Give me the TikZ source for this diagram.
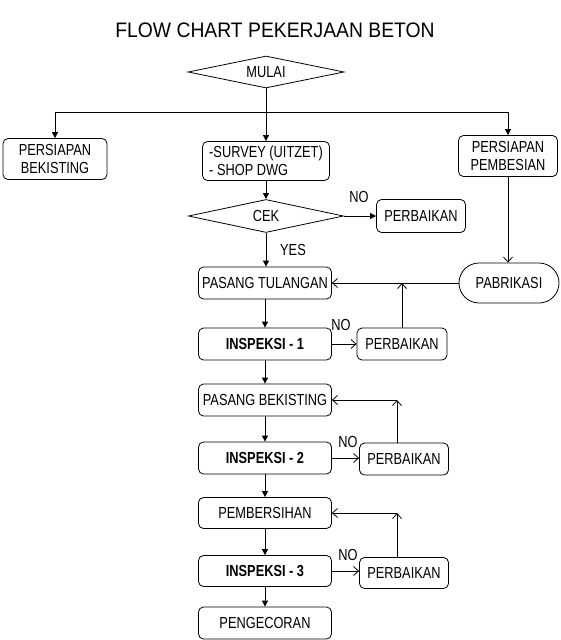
\documentclass[tikz,border=0pt]{standalone}
\usepackage{fontspec}
\setmainfont{Liberation Sans}[FakeStretch=0.8]
\newfontfamily\titlefont{Liberation Sans}[FakeStretch=0.92]
\usetikzlibrary{arrows.meta,positioning,calc,shapes.geometric}

\begin{document}
\begin{tikzpicture}[
  x=1pt, y=-1pt,
  box/.style={draw, rounded corners=5pt, minimum width=133pt, minimum height=32pt, inner sep=1pt, align=center, font=\fontsize{16}{18}\selectfont},
  fixbox/.style={box, minimum width=89pt},
  prepbox/.style={box, minimum width=100pt, minimum height=41pt},
  decide/.style={draw, diamond, aspect=4.8, inner sep=0pt, minimum width=156pt, minimum height=32pt, font=\fontsize{16}{18}\selectfont},
  insp/.style={box, font=\fontsize{16}{18}\selectfont\bfseries},
  lbl/.style={font=\fontsize{16}{18}\selectfont, inner sep=0pt},
  arrow/.style={-{Triangle[length=6pt,width=6pt]}, line width=0.8pt},
  back/.style={-{Straight Barb[length=5pt,width=9pt]}, line width=0.8pt},
  every node/.append style={line width=0.8pt}
]
\useasboundingbox (0,0) rectangle (561,640);

\node[font=\titlefont\fontsize{21}{24}\selectfont] (title) at (275,30) {FLOW CHART PEKERJAAN BETON};

\node[decide] (mulai) at (266,72) {MULAI};
\node[prepbox, minimum width=104pt] (bekisting) at (55,159) {PERSIAPAN\\BEKISTING};
\node[box, minimum width=127pt, minimum height=39pt, align=left] (survey) at (266,161) {-SURVEY (UITZET)\\- SHOP DWG};
\node[prepbox, minimum width=99pt] (pembesian) at (508,156) {PERSIAPAN\\PEMBESIAN};

\node[decide, minimum width=155pt, minimum height=33pt] (cek) at (266,216) {CEK};
\node[fixbox, minimum height=33pt] (fix0) at (421,216) {PERBAIKAN};
\node[lbl] (no0) at (359,197) {NO};
\node[lbl] (yes) at (293,250) {YES};

\node[box] (tulangan) at (265,283) {PASANG TULANGAN};
\node[draw, rounded corners=20pt, minimum width=100pt, minimum height=40pt, font=\fontsize{16}{18}\selectfont] (pabrikasi) at (509,283) {PABRIKASI};

\node[insp] (insp1) at (265,344) {INSPEKSI - 1};
\node[fixbox, minimum width=90pt] (fix1) at (402,344) {PERBAIKAN};
\node[lbl] (no1) at (341,325) {NO};

\node[box] (pbekisting) at (265,400) {PASANG BEKISTING};
\node[insp] (insp2) at (265,458) {INSPEKSI - 2};
\node[fixbox] (fix2) at (404,459) {PERBAIKAN};
\node[lbl] (no2) at (348,442) {NO};

\node[box, minimum height=31pt] (bersih) at (265,513) {PEMBERSIHAN};
\node[insp, minimum height=31pt] (insp3) at (265,571) {INSPEKSI - 3};
\node[fixbox, minimum height=31pt] (fix3) at (404,573) {PERBAIKAN};
\node[lbl] (no3) at (348,555) {NO};

\node[box] (cor) at (265,623) {PENGECORAN};

\coordinate (split) at (266,112);
\draw[arrow] (mulai.south) -- (survey.north);
\draw[arrow] (split) -| (bekisting.north);
\draw[arrow] (split) -| (pembesian.north);
\draw[arrow] (survey.south) -- (cek.north);
\draw[arrow] (cek.east) -- (fix0.west);
\draw[arrow] (cek.south) -- (cek.south |- tulangan.north);

\draw[back] (pembesian.south) -- (pembesian.south |- pabrikasi.north);
\draw[back] (pabrikasi.west) -- (tulangan.east);
\draw[back] (fix1.north) -- (fix1.north |- tulangan.east);

\draw[arrow] (tulangan.south) -- (insp1.north);
\draw[back] (insp1.east) -- (fix1.west);
\draw[arrow] (insp1.south) -- (pbekisting.north);

\coordinate (up2) at ([xshift=-7pt]fix2.north |- pbekisting.east);
\draw[back] ([xshift=-7pt]fix2.north) -- (up2);
\draw[back] (up2) -- (pbekisting.east);
\draw[arrow] (pbekisting.south) -- (insp2.north);
\draw[back] (insp2.east) -- (insp2.east -| fix2.west);
\draw[arrow] (insp2.south) -- (bersih.north);

\coordinate (up3) at ([xshift=-7pt]fix3.north |- bersih.east);
\draw[back] ([xshift=-7pt]fix3.north) -- (up3);
\draw[back] (up3) -- (bersih.east);
\draw[arrow] (bersih.south) -- (insp3.north);
\draw[back] (insp3.east) -- (insp3.east -| fix3.west);
\draw[arrow] (insp3.south) -- (cor.north);

\end{tikzpicture}
\end{document}
